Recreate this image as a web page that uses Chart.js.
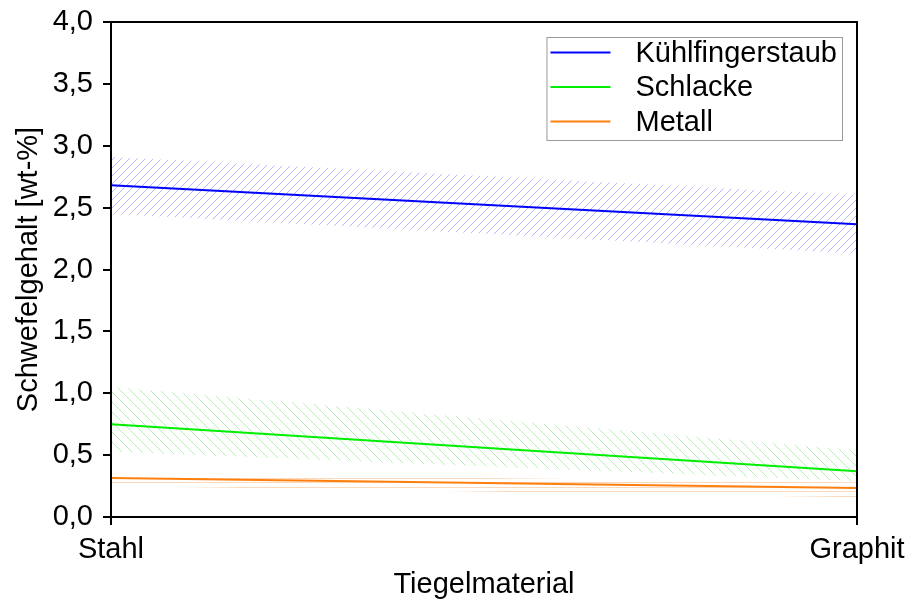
<!DOCTYPE html>
<html>
<head>
<meta charset="utf-8">
<script src="https://cdn.jsdelivr.net/npm/chart.js@4.4.1/dist/chart.umd.min.js"></script>
<style>
  html, body { margin: 0; padding: 0; background: #ffffff; }
  canvas { display: block; }
</style>
</head>
<body>
<canvas id="c" width="911" height="602"></canvas>
<script>
// Crucible material on the x axis, sulphur content (wt-%) on the y axis
const categories = ['Stahl', 'Graphit'];
const seriesNames = ['Kühlfingerstaub', 'Schlacke', 'Metall'];

const kuehlfinger = [2.68, 2.365];
const kuehlfingerUpper = [2.91, 2.60];
const kuehlfingerLower = [2.45, 2.13];

const schlacke = [0.75, 0.37];
const schlackeUpper = [1.05, 0.54];
const schlackeLower = [0.53, 0.29];

const metall = [0.315, 0.235];
const metallUpper = [0.35, 0.28];
const metallLower = [0.25, 0.16];

const yTicks = [0, 0.5, 1.0, 1.5, 2.0, 2.5, 3.0, 3.5, 4.0];

const FONT = '"Liberation Sans", Arial, sans-serif';
const FONT_SIZE = 29;

const canvas = document.getElementById('c');
const ctx = canvas.getContext('2d');

// Build a repeating hatch tile: '/' rising, '\\' falling, '-' horizontal
function hatch(kind, color, size) {
  const tile = document.createElement('canvas');
  tile.width = size;
  tile.height = size;
  const g = tile.getContext('2d');
  g.strokeStyle = color;
  g.lineWidth = 1;
  g.beginPath();
  if (kind === '/') {
    for (const o of [-size, 0, size]) { g.moveTo(o, size); g.lineTo(o + size, 0); }
  } else if (kind === '\\') {
    for (const o of [-size, 0, size]) { g.moveTo(o, 0); g.lineTo(o + size, size); }
  } else {
    g.moveTo(0, 1.5); g.lineTo(size, 1.5);
    g.moveTo(0, 5.5); g.lineTo(size, 5.5);
  }
  g.stroke();
  return ctx.createPattern(tile, 'repeat');
}

const blueHatch = hatch('/', 'rgba(30,30,255,0.32)', 8);
const greenHatch = hatch('\\', '#b4f0b4', 10);
const orangeHatch = hatch('-', '#fcd9bb', 9);

function mainLine(label, data, color) {
  return {
    label, data,
    borderColor: color, backgroundColor: color,
    borderWidth: 2, pointRadius: 0, fill: false, tension: 0
  };
}
function band(data, fillTarget, pattern) {
  return {
    label: '', data,
    borderColor: 'transparent', borderWidth: 0,
    backgroundColor: pattern, pointRadius: 0,
    fill: fillTarget === null ? false : { target: fillTarget },
    legendHidden: true
  };
}

const datasets = [
  mainLine(seriesNames[0], kuehlfinger, '#0000ff'),
  mainLine(seriesNames[1], schlacke, '#00ee00'),
  mainLine(seriesNames[2], metall, '#ff7f0e'),
  band(kuehlfingerUpper, 4, blueHatch),
  band(kuehlfingerLower, null, blueHatch),
  band(schlackeUpper, 6, greenHatch),
  band(schlackeLower, null, greenHatch),
  band(metallUpper, 8, orangeHatch),
  band(metallLower, null, orangeHatch)
];

// Black frame around the plotting area
const frame = {
  id: 'frame',
  afterDatasetsDraw(chart) {
    const a = chart.chartArea;
    const c = chart.ctx;
    c.save();
    c.strokeStyle = '#000';
    c.lineWidth = 2;
    c.strokeRect(a.left, a.top, a.right - a.left, a.bottom - a.top);
    c.restore();
  }
};

// Boxed legend in the upper right corner of the plot
const boxLegend = {
  id: 'boxLegend',
  afterDraw(chart) {
    const a = chart.chartArea;
    const c = chart.ctx;
    const items = chart.data.datasets.filter(d => !d.legendHidden);
    c.save();
    c.font = FONT_SIZE + 'px ' + FONT;
    const textW = Math.max(...items.map(d => c.measureText(d.label).width));
    const padL = 4, lineLen = 60, gap = 25, padR = 5, rowH = 34.5, padT = 15.5, padB = 18.5;
    const w = padL + lineLen + gap + textW + padR;
    const h = padT + rowH * (items.length - 1) + padB;
    const x0 = a.right - 15 - w;
    const y0 = a.top + 15;
    c.fillStyle = 'rgba(255,255,255,0.85)';
    c.fillRect(x0, y0, w, h);
    c.strokeStyle = '#9a9a9a';
    c.lineWidth = 1;
    c.strokeRect(x0 + 0.5, y0 + 0.5, w, h);
    c.textBaseline = 'middle';
    c.textAlign = 'left';
    items.forEach((d, i) => {
      const y = y0 + padT + i * rowH;
      c.strokeStyle = d.borderColor;
      c.lineWidth = 2;
      c.beginPath();
      c.moveTo(x0 + padL, y);
      c.lineTo(x0 + padL + lineLen, y);
      c.stroke();
      c.fillStyle = '#000';
      c.fillText(d.label, x0 + padL + lineLen + gap, y + 1);
    });
    c.restore();
  }
};

new Chart(ctx, {
  type: 'line',
  data: { labels: categories, datasets },
  plugins: [frame, boxLegend],
  options: {
    responsive: false,
    animation: false,
    layout: { padding: { top: 22, right: 54, left: 0, bottom: 0 } },
    plugins: {
      legend: { display: false },
      tooltip: { enabled: false },
      filler: { propagate: false }
    },
    scales: {
      x: {
        type: 'category',
        offset: false,
        grid: { drawOnChartArea: false, drawTicks: true, tickLength: 8, color: '#000', lineWidth: 2 },
        border: { display: true, color: '#000', width: 2 },
        ticks: { color: '#000', font: { family: FONT, size: FONT_SIZE }, padding: 8, maxRotation: 0, autoSkip: false },
        title: { display: true, text: 'Tiegelmaterial', color: '#000', font: { family: FONT, size: FONT_SIZE }, padding: { top: 0, bottom: 0 } },
        afterFit(s) { s.height = 85; s.paddingLeft = 0; s.paddingRight = 0; }
      },
      y: {
        min: 0,
        max: 4,
        grid: { drawOnChartArea: false, drawTicks: true, tickLength: 8, color: '#000', lineWidth: 2 },
        border: { display: true, color: '#000', width: 2 },
        afterBuildTicks(s) { s.ticks = yTicks.map(v => ({ value: v })); },
        ticks: {
          color: '#000', font: { family: FONT, size: FONT_SIZE }, padding: 10,
          callback: v => Number(v).toFixed(1).replace('.', ',')
        },
        title: { display: true, text: 'Schwefelgehalt [wt-%]', color: '#000', font: { family: FONT, size: FONT_SIZE }, padding: { top: 12, bottom: 0 } },
        afterFit(s) { s.width = 111; s.paddingTop = 0; s.paddingBottom = 0; }
      }
    }
  }
});
</script>
</body>
</html>
